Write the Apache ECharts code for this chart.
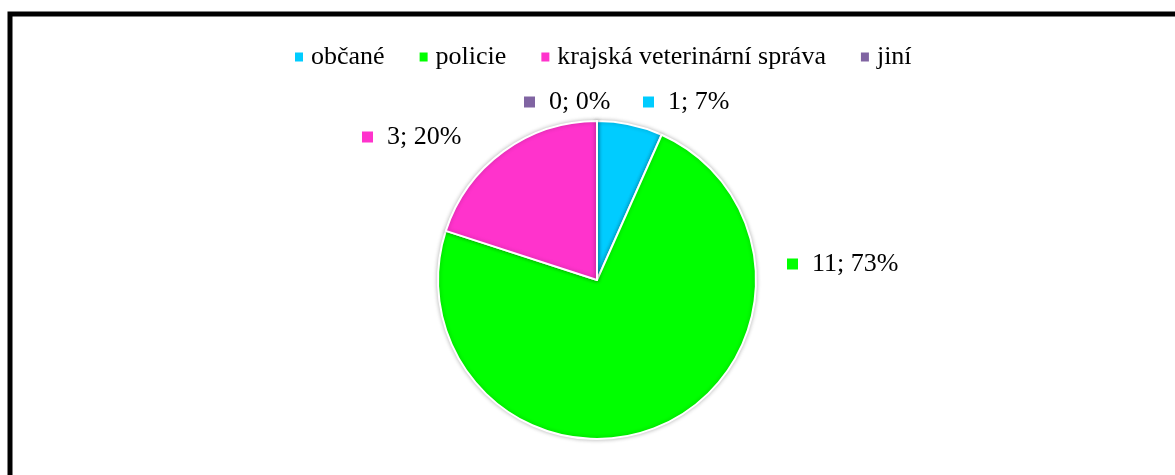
<!DOCTYPE html>
<html><head><meta charset="utf-8">
<script src="https://cdn.jsdelivr.net/npm/echarts@6/dist/echarts.min.js"></script>
<style>html,body{margin:0;padding:0;background:#fff}#c{width:1175px;height:475px}</style>
</head><body><div id="c"></div>
<script>
var categories = ['občané', 'policie', 'krajská veterinární správa', 'jiní'];
var values = [1, 11, 3, 0];
var colors = ['#00CCFF', '#00FF00', '#FF33CC', '#8064A2'];
// label anchor points (text placement only)
var labelX = [643, 787, 362, 524];
var labelY = [102, 264, 137, 102];

var chart = echarts.init(document.getElementById('c'));
var font = '"Liberation Serif", "Times New Roman", serif';
chart.setOption({
  backgroundColor: '#fff',
  animation: false,
  graphic: [{
    type: 'rect', shape: {x: 10, y: 14, width: 1300, height: 600},
    style: {fill: 'none', stroke: '#000', lineWidth: 5}, z: 100
  }],
  legend: {
    top: 39, left: 288,
    itemWidth: 10, itemHeight: 11, itemGap: 33,
    icon: 'rect',
    textStyle: {fontFamily: font, fontSize: 26, color: '#000', padding: [0, 0, 0, 2]},
    data: categories
  },
  series: [{
    type: 'pie',
    center: [597, 280],
    radius: 159,
    startAngle: 90,
    clockwise: true,
    stillShowZeroSum: true,
    itemStyle: {borderColor: '#fff', borderWidth: 2, shadowBlur: 4, shadowColor: 'rgba(0,0,0,0.25)'},
    labelLine: {show: false},
    label: {
      show: true, position: 'outside',
      formatter: function (p) {
        return '{sq' + p.dataIndex + '|}{t|' + p.value + '; ' + Math.round(p.percent) + '%}';
      },
      rich: {
        sq0: {width: 11, height: 11, backgroundColor: colors[0]},
        sq1: {width: 11, height: 11, backgroundColor: colors[1]},
        sq2: {width: 11, height: 11, backgroundColor: colors[2]},
        sq3: {width: 11, height: 11, backgroundColor: colors[3]},
        t: {fontFamily: font, fontSize: 26, color: '#000', padding: [0, 0, 0, 14]}
      }
    },
    labelLayout: function (p) {
      return {x: labelX[p.dataIndex], y: labelY[p.dataIndex], align: 'left', verticalAlign: 'middle', hideOverlap: false};
    },
    data: categories.map(function (c, i) {
      return {name: c, value: values[i], itemStyle: {color: colors[i]}};
    })
  }]
});
</script></body></html>
